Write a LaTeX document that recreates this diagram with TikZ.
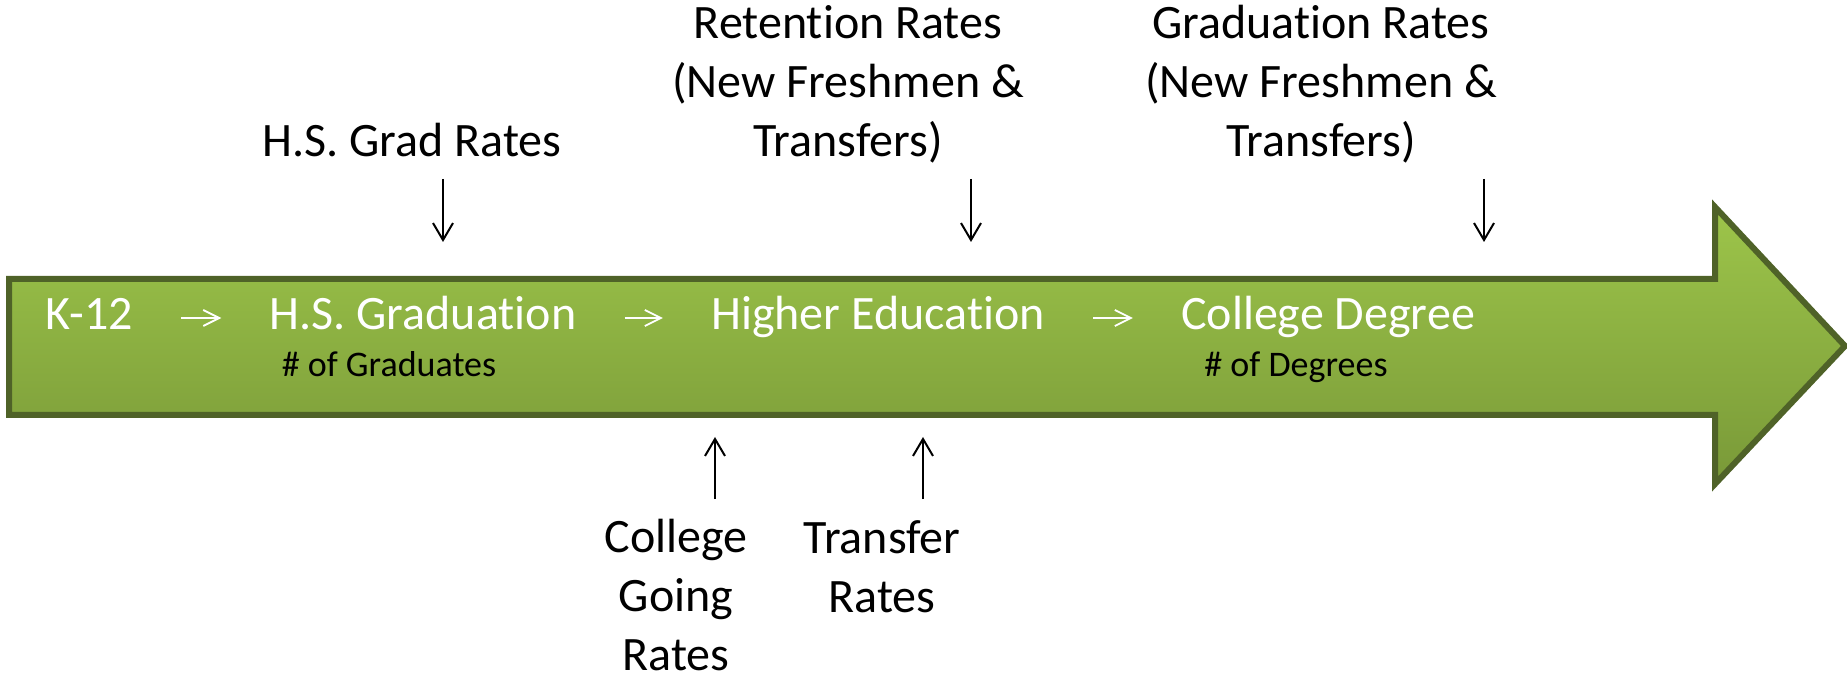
\documentclass[tikz,border=0pt]{standalone}
\usepackage{fontspec}
\setmainfont{Carlito}[Ligatures={NoCommon}]
\usetikzlibrary{positioning}
\usetikzlibrary{arrows.meta}
\definecolor{bandtop}{RGB}{157,197,74}
\definecolor{bandbot}{RGB}{121,153,56}
\definecolor{bandline}{RGB}{79,98,40}
\tikzset{
    mynodew/.style = {inner sep=0, anchor=base, align=center, font=\fontsize{24}{29.5}\selectfont, text=white},
    mynodes/.style = {inner sep=0, anchor=base, align=center, font=\fontsize{18}{21.6}\selectfont, text=black},
    mynodel/.style = {inner sep=0, anchor=base, align=center, font=\fontsize{24}{29.5}\selectfont, text=black},
    edgev/.style = {-{Straight Barb[length=8.5pt,width=10pt]}, line width=1pt, black},
    edgew/.style = {-{Straight Barb[length=8pt,width=8pt]}, line width=0.9pt, white, shorten <=24pt, shorten >=24pt},
    bandarrow/.style = {line width=3pt, draw=bandline, top color=bandtop, bottom color=bandbot, line join=miter}
}

\begin{document}
\begin{tikzpicture}[x=0.5pt,y=-0.5pt]
\useasboundingbox (0,0) rectangle (1847,673);

% big arrow
\draw[bandarrow] (9,279) -- (1715,279) -- (1715,207) -- (1845,346) -- (1715,484) -- (1715,415) -- (9,415) -- cycle;

% steps
\node[mynodew] at (89,330) (k12) {K-12};
\node[mynodew] at (423,330) (hsg) {H.S. Graduation};
\node[mynodew] at (878,330) (hed) {Higher Education};
\node[mynodew] at (1328,330) (deg) {College Degree};
\node[mynodes] at (389,377) (ngrad) {\# of Graduates};
\node[mynodes] at (1296,377) (ndeg) {\# of Degrees};

\draw[edgew] ([yshift=6pt]k12.base east) -- ([yshift=6pt]hsg.base west);
\draw[edgew] ([yshift=6pt]hsg.base east) -- ([yshift=6pt]hed.base west);
\draw[edgew] ([yshift=6pt]hed.base east) -- ([yshift=6pt]deg.base west);

% rates above (base = last line)
\node[mynodel] at (412,157) (hsrate) {H.S. Grad Rates};
\node[mynodel] at (848,157) (retrate) {Retention Rates\\(New Freshmen \&\\Transfers)};
\node[mynodel] at (1321,157) (gradrate) {Graduation Rates\\(New Freshmen \&\\Transfers)};

% rates below
\node[mynodel] at (676,670) (gorate) {College\\Going\\Rates};
\node[mynodel] at (882,612) (trrate) {Transfer\\Rates};

\coordinate (d1) at (443,179);  \coordinate (e1) at (443,242);
\coordinate (d2) at (971,179);  \coordinate (e2) at (971,242);
\coordinate (d3) at (1484,179); \coordinate (e3) at (1484,242);
\coordinate (u1) at (715,499);  \coordinate (v1) at (715,437);
\coordinate (u2) at (923,499);  \coordinate (v2) at (923,437);

\draw[edgev] (d1) -- (e1);
\draw[edgev] (d2) -- (e2);
\draw[edgev] (d3) -- (e3);
\draw[edgev] (u1) -- (v1);
\draw[edgev] (u2) -- (v2);

\end{tikzpicture}
\end{document}
